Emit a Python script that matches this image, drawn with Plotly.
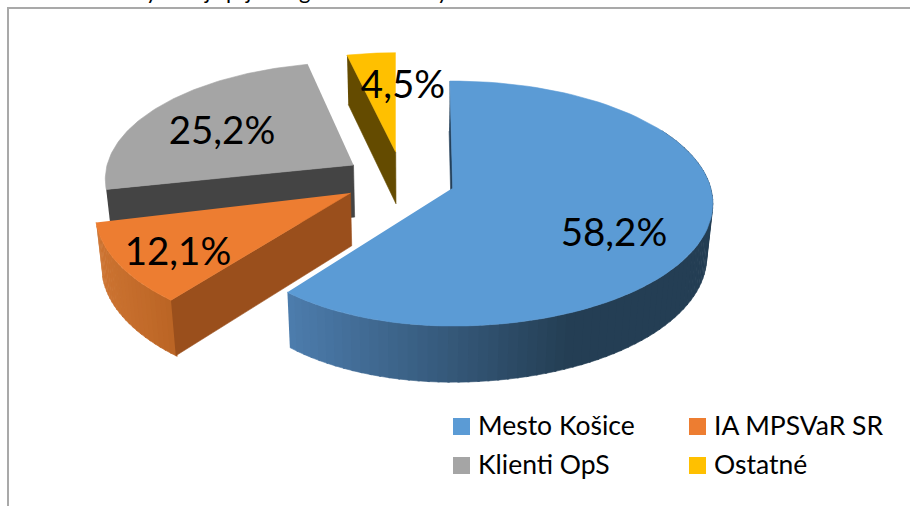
import numpy as np
import plotly.graph_objects as go

categories = ["Mesto Košice", "IA MPSVaR SR", "Klienti OpS", "Ostatné"]
values = [58.2, 12.1, 25.2, 4.5]
labels = ["58,2%", "12,1%", "25,2%", "4,5%"]
colors = ["#5B9BD5", "#ED7D31", "#A5A5A5", "#FFC000"]

# view: pie drawn on an axis running in screen pixels, with an oblique projection
RX, RY, PERSP = 258.0, 120.5, 0.127
apex = [(452.7, 188), (350.5, 193), (353.5, 165), (395.7, 152)]
scale = [1.0, 1.0, 0.955, 0.92]
skew = [(-0.7, 7.0), (8.5, 3.0), (5.0, 4.2), (3.0, 0.0)]
inner_wall = [None, "#9A4F1C", "#444444", "#644B00"]
label_pos = [(614, 236.5), (178, 255.5), (222, 134.5), (403, 88.5)]
legend_pos = [(453, 426.5), (689, 426.5), (453, 465.5), (689, 465.5)]
legend_text_dx, legend_text_dy = 22.5, -1.5
draw_order = [2, 3, 1, 0]


def rim(i, deg):
    deg = np.asarray(deg, float)
    t = np.radians(deg)
    r = scale[i]
    if i == 0:  # the near end of the largest slice pulls in slightly
        r = r * (1 - 0.03 * np.clip((deg - 180) / 36.5, 0, 1) ** 2)
    if i == 1:  # the orange rim tightens from its near corner to its left corner
        r = r * np.interp(deg, [218, 256], [1.015, 0.985])
    u, v = r * np.sin(t), -r * np.cos(t)
    w = 1 - PERSP * v
    return apex[i][0] + RX * u / w, apex[i][1] + RY * v / w


def base(x, y):
    x, y = np.asarray(x, float), np.asarray(y, float)
    return 410 + 0.98 * (x - 410), 1.025 * y + 48


def mix(a, b, f):
    f = float(np.clip(f, 0, 1))
    c = [round(a[k] + (b[k] - a[k]) * f) for k in range(3)]
    return f"rgb({c[0]},{c[1]},{c[2]})"


def poly(xs, ys, color):
    return go.Scatter(x=list(xs), y=list(ys), mode="lines", fill="toself", fillcolor=color,
                      line=dict(color=color, width=0.6), hoverinfo="skip", showlegend=False)


edges = np.concatenate([[0], np.cumsum(values)]) * 3.6
fig = go.Figure()

for i in draw_order:
    a0, a1 = edges[i] + skew[i][0], edges[i + 1] + skew[i][1]
    arc = np.linspace(a0, a1, 90)
    ax_arc, ay_arc = rim(i, arc)
    # walls
    if i == 0:
        sx, sy = rim(0, a0)
        bx, by = base([sx, apex[0][0]], [sy, apex[0][1]])
        fig.add_trace(poly([sx, apex[0][0], bx[1], bx[0]], [sy, apex[0][1], by[1], by[0]], "#24405A"))
        a_strip = np.linspace(a1, 60, 80)
        for s, e in zip(a_strip[:-1], a_strip[1:]):
            tx, ty = rim(0, np.linspace(s, e - 0.4, 3))
            ux, uy = base(tx, ty)
            f = (tx.mean() - 290) / (570 - 290)
            fig.add_trace(poly(list(tx) + list(ux[::-1]), list(ty) + list(uy[::-1]),
                               mix((76, 124, 172), (36, 62, 84), f)))
    elif i == 1:
        a_strip = np.linspace(a1, a0, 24)
        for s, e in zip(a_strip[:-1], a_strip[1:]):
            tx, ty = rim(1, np.linspace(s, e - 0.4, 3))
            ux, uy = base(tx, ty)
            f = (tx.mean() - 95) / (175 - 95)
            fig.add_trace(poly(list(tx) + list(ux[::-1]), list(ty) + list(uy[::-1]),
                               mix((205, 116, 50), (186, 100, 36), f)))
    if inner_wall[i]:
        ex, ey = rim(i, a0)
        bx, by = base([ex, apex[i][0]], [ey, apex[i][1]])
        fig.add_trace(poly([ex, apex[i][0], bx[1], bx[0]], [ey, apex[i][1], by[1], by[0]], inner_wall[i]))
    # top face
    fig.add_trace(poly([apex[i][0]] + list(ax_arc), [apex[i][1]] + list(ay_arc), colors[i]))

# data labels
fig.add_trace(go.Scatter(x=[p[0] for p in label_pos], y=[p[1] for p in label_pos], text=labels,
                         mode="text", textposition="middle center",
                         textfont=dict(family="Lato", size=38.5, color="#000000"),
                         hoverinfo="skip", showlegend=False))

# legend
for k, c in enumerate(categories):
    fig.add_trace(go.Scatter(x=[legend_pos[k][0] + 8.5], y=[legend_pos[k][1]], mode="markers",
                             marker=dict(symbol="square", size=17, color=colors[k]),
                             hoverinfo="skip", showlegend=False))
    fig.add_annotation(x=legend_pos[k][0] + legend_text_dx, y=legend_pos[k][1] + legend_text_dy,
                       text=c, showarrow=False, xanchor="left", yanchor="middle",
                       font=dict(family="Lato", size=26.5, color="#000000"))

# clipped title above the frame: only the descenders are visible
for ch, xc in zip("yjpjgy", [152, 207, 232, 248, 304, 443]):
    fig.add_annotation(x=xc, y=6, text=ch, showarrow=False, xanchor="center", yanchor="bottom",
                       font=dict(family="Lato", size=22, color="#000000"))

# frame
FRAME = dict(type="line", line=dict(color="#A9A9A9", width=2), layer="below", xref="x", yref="y")
fig.add_shape(x0=7, x1=910, y0=8, y1=8, **FRAME)
fig.add_shape(x0=8, x1=8, y0=8, y1=506, **FRAME)

fig.update_layout(
    width=910, height=506, margin=dict(l=0, r=0, t=0, b=0),
    paper_bgcolor="white", plot_bgcolor="white", showlegend=False,
    xaxis=dict(range=[0, 910], visible=False, fixedrange=True),
    yaxis=dict(range=[506, 0], visible=False, fixedrange=True),
)
fig.write_html("out.html", config=dict(displayModeBar=False),
               post_script="document.body.style.margin='0';document.body.style.overflow='hidden';")
